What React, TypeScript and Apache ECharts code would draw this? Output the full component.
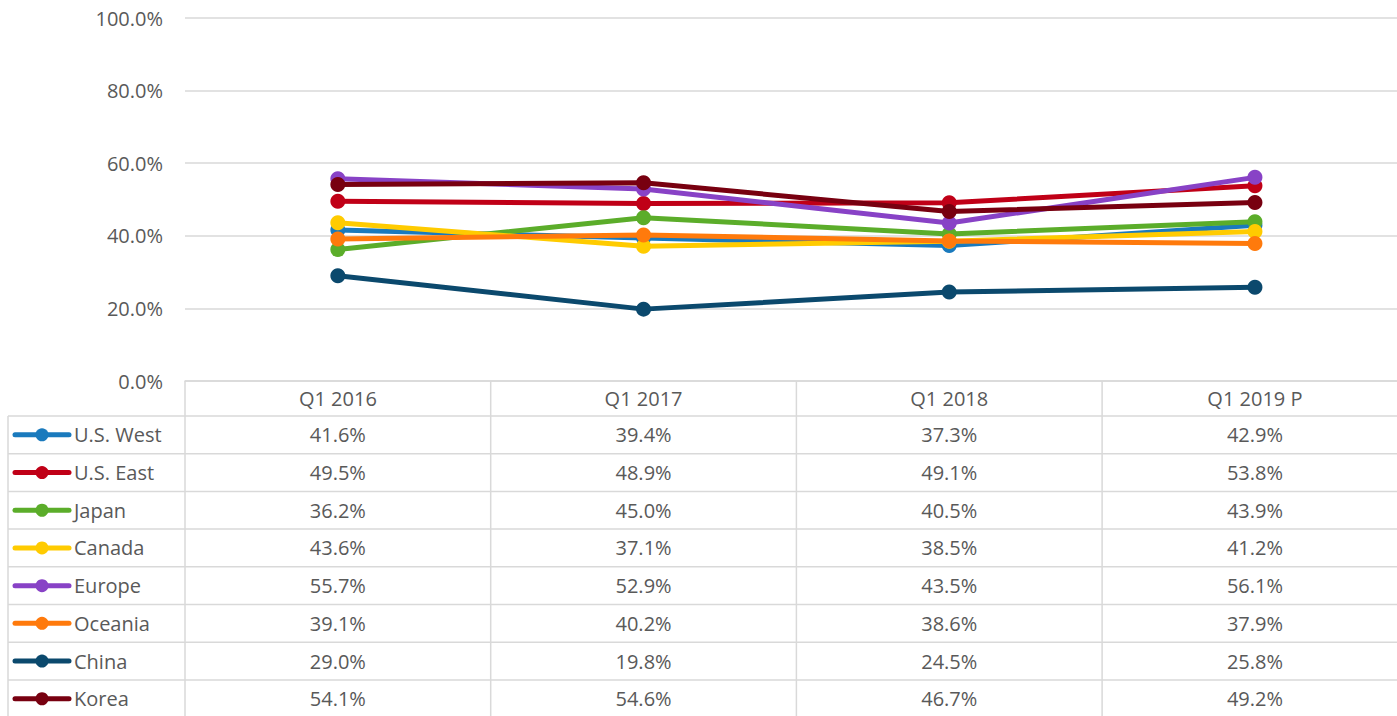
import React, { useEffect, useRef } from "react";
import * as echarts from "echarts";

const categories = ["Q1 2016", "Q1 2017", "Q1 2018", "Q1 2019 P"];
const seriesNames = ["U.S. West", "U.S. East", "Japan", "Canada", "Europe", "Oceania", "China", "Korea"];
const usWest = [41.6, 39.4, 37.3, 42.9];
const usEast = [49.5, 48.9, 49.1, 53.8];
const japan = [36.2, 45.0, 40.5, 43.9];
const canada = [43.6, 37.1, 38.5, 41.2];
const europe = [55.7, 52.9, 43.5, 56.1];
const oceania = [39.1, 40.2, 38.6, 37.9];
const china = [29.0, 19.8, 24.5, 25.8];
const korea = [54.1, 54.6, 46.7, 49.2];
const yTicks = [0, 20, 40, 60, 80, 100];

const seriesValues = [usWest, usEast, japan, canada, europe, oceania, china, korea];
const colors = ["#1A7ABD", "#C00017", "#5BAD2A", "#FFCB00", "#8842C6", "#FF7A0C", "#0B496D", "#780010"];

const FONT = "'Open Sans', 'Noto Sans', sans-serif";
const TXT = "#595959";
const GRID = "#d9d9d9";

const LEFT = 185;
const COLW = 305.7;
const CW = Math.ceil(LEFT + COLW * 4);

export default function App() {
  const ref = useRef<HTMLDivElement>(null);
  useEffect(() => {
    if (!ref.current) return;
    const chart = echarts.init(ref.current, undefined, { renderer: "svg" });
    const left = LEFT;
    const top = 18;
    const bottom0 = 381;
    const colW = COLW;
    const rowTop = 416;
    const rowH = 37.7;
    const tableLeft = 8;
    const W = CW;
    const H = 716;
    const gridRight = W - (left + colW * categories.length);

    const g: any[] = [];
    for (let i = 0; i < categories.length; i++) {
      const x = left + i * colW;
      g.push({ type: "line", shape: { x1: x, y1: bottom0, x2: x, y2: H }, style: { stroke: GRID, lineWidth: 1.5 }, silent: true });
      g.push({
        type: "text", x: x + colW / 2, y: (bottom0 + rowTop) / 2,
        style: { text: categories[i], fill: TXT, font: `20px ${FONT}`, textAlign: "center", textVerticalAlign: "middle" }, silent: true,
      });
    }
    g.push({ type: "line", shape: { x1: tableLeft, y1: rowTop, x2: tableLeft, y2: H }, style: { stroke: GRID, lineWidth: 1.5 }, silent: true });
    for (let r = 0; r <= seriesNames.length; r++) {
      const y = rowTop + r * rowH;
      g.push({ type: "line", shape: { x1: tableLeft, y1: y, x2: W, y2: y }, style: { stroke: GRID, lineWidth: 1.5 }, silent: true });
    }
    seriesNames.forEach((name, r) => {
      const cy = rowTop + r * rowH + rowH / 2;
      g.push({ type: "line", shape: { x1: 15, y1: cy, x2: 69, y2: cy }, style: { stroke: colors[r], lineWidth: 5, lineCap: "round" }, silent: true });
      g.push({ type: "circle", shape: { cx: 42, cy, r: 6.5 }, style: { fill: colors[r] }, silent: true });
      g.push({
        type: "text", x: 74, y: cy,
        style: { text: name, fill: TXT, font: `20px ${FONT}`, textAlign: "left", textVerticalAlign: "middle" }, silent: true,
      });
      seriesValues[r].forEach((v, i) => {
        g.push({
          type: "text", x: left + i * colW + colW / 2, y: cy,
          style: { text: v.toFixed(1) + "%", fill: TXT, font: `20px ${FONT}`, textAlign: "center", textVerticalAlign: "middle" }, silent: true,
        });
      });
    });

    chart.setOption({
      animation: false,
      backgroundColor: "#ffffff",
      grid: { left, top, right: gridRight, bottom: H - bottom0, containLabel: false },
      xAxis: {
        type: "category",
        data: categories,
        boundaryGap: true,
        axisLine: { show: true, lineStyle: { color: GRID, width: 1.5 } },
        axisTick: { show: false },
        axisLabel: { show: false },
      },
      yAxis: {
        type: "value",
        min: 0,
        max: 100,
        interval: 20,
        axisLine: { show: false },
        axisTick: { show: false },
        splitLine: { lineStyle: { color: GRID, width: 1.5 } },
        axisLabel: {
          color: TXT, fontFamily: FONT, fontSize: 20, margin: 22,
          formatter: (v: number) => (yTicks.includes(v) ? v.toFixed(1) + "%" : ""),
        },
      },
      series: seriesNames.map((name, i) => ({
        name,
        type: "line",
        data: seriesValues[i],
        symbol: "circle",
        symbolSize: 15,
        lineStyle: { color: colors[i], width: 5 },
        itemStyle: { color: colors[i] },
        z: 2 + i,
      })),
      graphic: g,
    });
    return () => chart.dispose();
  }, []);
  return (
    <div style={{ position: "fixed", left: 0, top: 0, width: 1397, height: 716, overflow: "hidden", background: "#fff" }}>
      <div ref={ref} style={{ width: CW, height: 716 }} />
    </div>
  );
}
